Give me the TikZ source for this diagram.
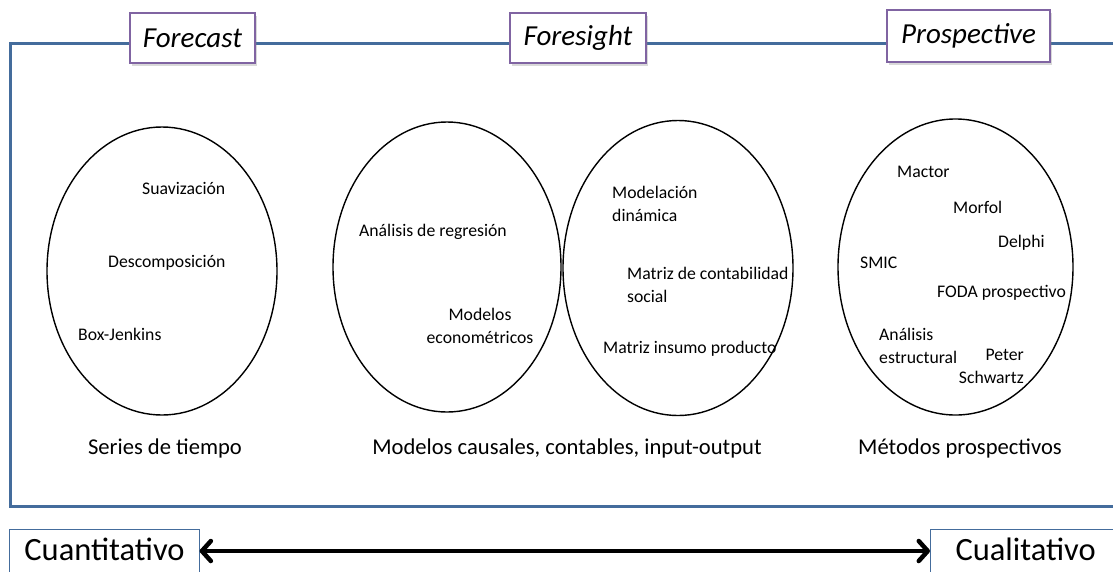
\documentclass[tikz,border=0pt]{standalone}
\usepackage{fontspec}
\setmainfont{Carlito}
\usepackage{xcolor}
\usepackage{tikz}
\usetikzlibrary{positioning,arrows.meta,shapes.geometric,shadows}
\definecolor{frameblue}{RGB}{68,108,156}
\definecolor{boxpurple}{RGB}{128,100,162}

\begin{document}
\begin{tikzpicture}[
  x=1pt, y=-1pt, >=Latex,
  frame/.style={draw=frameblue, line width=3pt},
  head/.style={draw=boxpurple, line width=1.5pt, fill=white, minimum height=50pt, inner sep=0pt,
    font=\fontsize{29}{32}\selectfont\itshape,
    drop shadow={shadow xshift=1.5pt, shadow yshift=-2.5pt, opacity=0.3}},
  oval/.style={ellipse, draw, line width=1.4pt, inner sep=0pt},
  item/.style={inner sep=0pt, font=\fontsize{17.7}{23}\selectfont},
  group/.style={inner sep=0pt, font=\fontsize{22.6}{26}\selectfont},
  pole/.style={draw=frameblue, line width=1pt, fill=white, inner ysep=0pt, anchor=north,
    font=\fontsize{32.5}{36}\selectfont, text height=31pt, text depth=12pt},
  span/.style={{Straight Barb[round,length=9pt,width=20pt]}-{Straight Barb[round,length=9pt,width=20pt]}, line width=4.5pt},
]
\useasboundingbox (0,0) rectangle (1113,571);
\clip (0,0) rectangle (1113,571);
% outer frame, open on the right
\draw[frame] (1120,43) -- (10,43) -- (10,506) -- (1120,506);
\node[head, minimum width=125pt] (forecast) at (192.5,38) {Forecast};
\node[head, minimum width=136pt] (foresight) at (578,38) {Foresight};
\node[head, minimum width=163pt, minimum height=52pt] (prospective) at (968.5,36) {Prospective};
% groups of methods
\node[oval, minimum width=230pt, minimum height=288pt] (series) at (162,271) {};
\node[oval, minimum width=228pt, minimum height=290pt] (causal) at (447,267) {};
\node[oval, minimum width=230pt, minimum height=295pt] (contable) at (678,268) {};
\node[oval, minimum width=235pt, minimum height=296pt] (metodos) at (955.5,267) {};
\node[item, anchor=west] (suav) at (142,188) {Suavización};
\node[item, anchor=west] (desc) at (108,263) {Descomposición};
\node[item, anchor=west] (boxj) at (78,334) {Box-Jenkins};
\node[item, anchor=west] (regr) at (359,232) {Análisis de regresión};
\node[item, align=center] (econ) at (480,325.5) {Modelos\\econométricos};
\node[item, anchor=west, align=left] (dina) at (612,204) {Modelación\\dinámica};
\node[item, anchor=west, align=left] (conta) at (627,284.5) {Matriz de contabilidad\\social};
\node[item, anchor=west] (insu) at (603,349) {Matriz insumo producto};
\node[item, anchor=west] (mactor) at (897,172) {Mactor};
\node[item, anchor=west] (morfol) at (953,207) {Morfol};
\node[item, anchor=west] (delphi) at (998,243) {Delphi};
\node[item, anchor=west] (smic) at (860,263) {SMIC};
\node[item, anchor=west] (foda) at (937,293) {FODA prospectivo};
\node[item, anchor=west, align=left] (estr) at (879,345.5) {Análisis\\estructural};
\node[item, anchor=east, align=right] (peter) at (1024,366) {Peter\\Schwartz};
\node[group] (seriesl) at (165,448) {Series de tiempo};
\node[group] (causall) at (567,448) {Modelos causales, contables, input-output};
\node[group] (metodosl) at (960,448) {Métodos prospectivos};
% scale from quantitative to qualitative
\node[pole, inner xsep=14.5pt] (cuanti) at (104.5,529) {Cuantitativo};
\node[pole, inner xsep=25pt, anchor=north west] (cuali) at (930,529) {Cualitativo};
\draw[span] (cuanti.east) -- (cuali.west);
\end{tikzpicture}
\end{document}
